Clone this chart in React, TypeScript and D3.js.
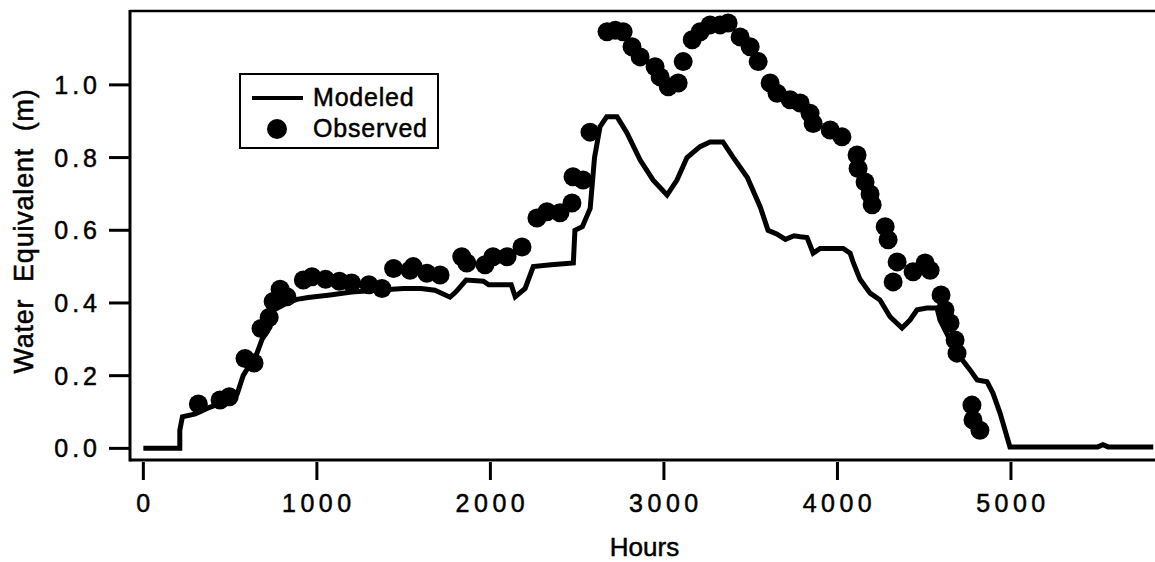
import React from "react";
import * as d3 from "d3";

// Modeled SWE (hours, metres)
const modeledHours = [0, 210, 210, 225, 300, 367, 450, 541, 575, 620, 655, 684, 730, 748, 790, 827, 885, 950, 1076, 1200, 1364, 1500, 1600, 1680, 1767, 1800, 1860, 1960, 1990, 2120, 2143, 2200, 2247, 2350, 2478, 2487, 2530, 2575, 2600, 2632, 2670, 2730, 2787, 2863, 2938, 3018, 3075, 3133, 3208, 3266, 3340, 3400, 3480, 3555, 3600, 3650, 3700, 3750, 3786, 3825, 3860, 3900, 4033, 4073, 4092, 4130, 4188, 4245, 4303, 4372, 4418, 4459, 4516, 4574, 4591, 4649, 4706, 4764, 4805, 4862, 4896, 4937, 4966, 4994, 5500, 5530, 5560, 5820];
const modeledValues = [0, 0, 0.05, 0.087, 0.095, 0.11, 0.125, 0.15, 0.2, 0.235, 0.262, 0.3, 0.334, 0.38, 0.39, 0.4, 0.41, 0.415, 0.422, 0.43, 0.436, 0.44, 0.44, 0.435, 0.416, 0.43, 0.463, 0.46, 0.45, 0.45, 0.417, 0.44, 0.5, 0.505, 0.51, 0.6, 0.61, 0.66, 0.8, 0.885, 0.912, 0.912, 0.868, 0.793, 0.738, 0.697, 0.738, 0.8, 0.83, 0.843, 0.843, 0.8, 0.746, 0.664, 0.6, 0.59, 0.575, 0.585, 0.582, 0.58, 0.537, 0.55, 0.55, 0.537, 0.51, 0.465, 0.427, 0.408, 0.362, 0.331, 0.353, 0.381, 0.386, 0.386, 0.353, 0.298, 0.252, 0.216, 0.188, 0.183, 0.152, 0.097, 0.05, 0.004, 0.004, 0.01, 0.004, 0.004];

// Observed SWE (hours, metres)
const observedHours = [317, 442, 495, 586, 638, 678, 725, 748, 788, 827, 922, 972, 1050, 1130, 1200, 1300, 1375, 1442, 1537, 1555, 1634, 1710, 1835, 1864, 1969, 2015, 2096, 2182, 2268, 2326, 2401, 2470, 2476, 2534, 2574, 2672, 2720, 2765, 2816, 2863, 2949, 2978, 3025, 3082, 3111, 3163, 3209, 3266, 3324, 3370, 3439, 3497, 3543, 3612, 3652, 3727, 3785, 3842, 3860, 3958, 4026, 4113, 4119, 4159, 4188, 4200, 4275, 4292, 4344, 4321, 4436, 4505, 4534, 4597, 4620, 4649, 4678, 4689, 4775, 4781, 4821];
const observedValues = [0.122, 0.133, 0.142, 0.247, 0.235, 0.33, 0.36, 0.404, 0.438, 0.417, 0.463, 0.472, 0.465, 0.46, 0.455, 0.45, 0.44, 0.495, 0.49, 0.5, 0.482, 0.477, 0.527, 0.51, 0.505, 0.527, 0.527, 0.554, 0.634, 0.651, 0.648, 0.675, 0.747, 0.738, 0.87, 1.146, 1.15, 1.146, 1.105, 1.077, 1.05, 1.022, 0.995, 1.005, 1.064, 1.124, 1.146, 1.165, 1.165, 1.17, 1.132, 1.105, 1.064, 1.005, 0.977, 0.959, 0.95, 0.922, 0.894, 0.876, 0.857, 0.807, 0.77, 0.733, 0.7, 0.67, 0.61, 0.574, 0.513, 0.458, 0.486, 0.51, 0.49, 0.422, 0.381, 0.345, 0.298, 0.262, 0.119, 0.078, 0.05];

const xTicks = [0, 1000, 2000, 3000, 4000, 5000];
const yTicks = [0.0, 0.2, 0.4, 0.6, 0.8, 1.0];

const W = 1155;
const H = 562;
const FONT = "'Liberation Sans', Arial, Helvetica, sans-serif";

export default function App() {
  const x = d3.scaleLinear().domain([-77, 5830]).range([130, 1155]);
  const y = d3.scaleLinear().domain([-0.032, 1.206]).range([460, 10]);

  const modeled = modeledHours.map((h, i) => [h, modeledValues[i]] as [number, number]);
  const observed = observedHours.map((h, i) => [h, observedValues[i]] as [number, number]);

  const line = d3
    .line<[number, number]>()
    .x((d) => x(d[0]))
    .y((d) => y(d[1]))
    .curve(d3.curveLinear);

  const left = x.range()[0];
  const right = x.range()[1];
  const top = y.range()[1];
  const bottom = y.range()[0];

  const textStroke = { stroke: "#000", strokeWidth: 0.5 };

  return (
    <svg
      width={W}
      height={H}
      style={{ position: "absolute", left: 0, top: 0, background: "#fff" }}
      fontFamily={FONT}
    >
      <rect x={0} y={0} width={W} height={H} fill="#fff" />
      {/* frame */}
      <line x1={left} x2={right} y1={top + 1} y2={top + 1} stroke="#000" strokeWidth={2.5} />
      <line x1={left} x2={left} y1={top} y2={bottom + 1.5} stroke="#000" strokeWidth={3} />
      <line x1={left} x2={right} y1={bottom} y2={bottom} stroke="#000" strokeWidth={3} />

      {/* y ticks */}
      {yTicks.map((t) => (
        <g key={"y" + t}>
          <line x1={109} x2={left} y1={y(t)} y2={y(t)} stroke="#000" strokeWidth={3} />
          <text
            x={101}
            y={y(t)}
            dy="0.36em"
            textAnchor="end"
            fontSize={25}
            letterSpacing={4}
            fill="#000"
            {...textStroke}
          >
            {t.toFixed(1)}
          </text>
        </g>
      ))}

      {/* x ticks */}
      {xTicks.map((t) => (
        <g key={"x" + t}>
          <line x1={x(t)} x2={x(t)} y1={bottom + 2} y2={480} stroke="#000" strokeWidth={3} />
          <text
            x={x(t) + 2}
            y={512}
            textAnchor="middle"
            fontSize={25}
            letterSpacing={4.5}
            fill="#000"
            {...textStroke}
          >
            {t}
          </text>
        </g>
      ))}

      {/* axis titles */}
      <text x={(left + right) / 2 + 2} y={556} textAnchor="middle" fontSize={26} fill="#000" {...textStroke}>
        Hours
      </text>
      <text
        transform={`translate(33, ${(top + bottom) / 2 - 4}) rotate(-90)`}
        textAnchor="middle"
        fontSize={27}
        letterSpacing={0.8}
        fill="#000"
        style={{ whiteSpace: "pre" }}
        {...textStroke}
      >
        {"Water  Equivalent  (m)"}
      </text>

      {/* modeled line */}
      <path d={line(modeled) || ""} fill="none" stroke="#000" strokeWidth={5} strokeLinejoin="miter" />

      {/* observed points */}
      {observed.map((d, i) => (
        <circle key={i} cx={x(d[0])} cy={y(d[1])} r={9.5} fill="#000" />
      ))}

      {/* legend */}
      <rect x={240} y={74} width={198} height={74} fill="#fff" stroke="#000" strokeWidth={2} />
      <line x1={252} x2={303} y1={98} y2={98} stroke="#000" strokeWidth={4} />
      <text x={313} y={106} fontSize={25} letterSpacing={0.8} fill="#000" {...textStroke}>
        Modeled
      </text>
      <circle cx={277} cy={129} r={10} fill="#000" />
      <text x={313} y={137} fontSize={25} letterSpacing={0.8} fill="#000" {...textStroke}>
        Observed
      </text>
    </svg>
  );
}
